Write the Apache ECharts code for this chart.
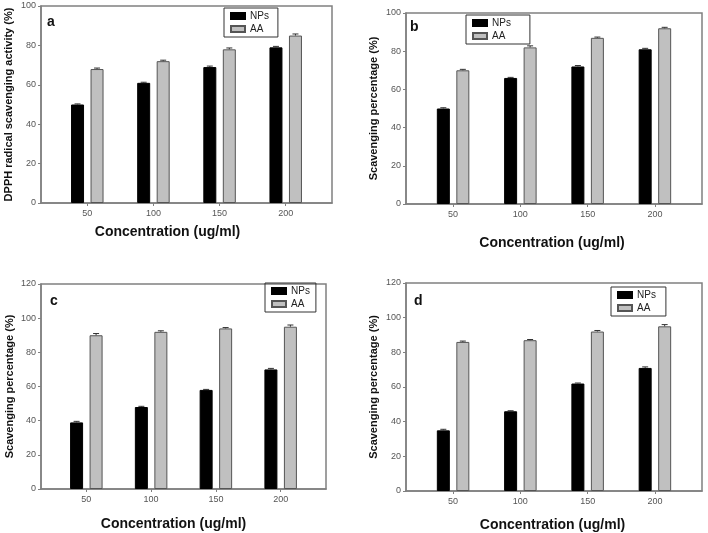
<!DOCTYPE html>
<html>
<head>
<meta charset="utf-8">
<script src="https://cdn.jsdelivr.net/npm/echarts@6/dist/echarts.min.js"></script>
<style>html,body{margin:0;padding:0;background:#fff}#c{width:708px;height:533px}</style>
</head>
<body>
<div id="c"></div>
<script>
// ---- data ----
const concentrations = [50, 100, 150, 200];
const panelLetters = ['a', 'b', 'c', 'd'];
const yTitles = ['DPPH radical scavenging activity (%)', 'Scavenging percentage (%)', 'Scavenging percentage (%)', 'Scavenging percentage (%)'];
const xTitle = 'Concentration (ug/ml)';
const yMax = [100, 100, 120, 120];
const npsA = [50, 61, 69, 79];
const aaA  = [68, 72, 78, 85];
const npsB = [50, 66, 72, 81];
const aaB  = [70, 82, 87, 92];
const npsC = [39, 48, 58, 70];
const aaC  = [90, 92, 94, 95];
const npsD = [35, 46, 62, 71];
const aaD  = [86, 87, 92, 95];
const npsErrA = [0.3, 0.3, 0.5, 0.5];
const aaErrA  = [0.5, 0.5, 0.7, 0.8];
const npsErrB = [0.4, 0.3, 0.5, 0.5];
const aaErrB  = [0.5, 0.8, 0.4, 0.5];
const npsErrC = [0.6, 0.4, 0.3, 0.6];
const aaErrC  = [1.0, 0.6, 0.5, 1.0];
const npsErrD = [0.6, 0.3, 0.3, 0.6];
const aaErrD  = [0.5, 0.4, 0.6, 1.0];

const npsAll = [npsA, npsB, npsC, npsD];
const aaAll = [aaA, aaB, aaC, aaD];
const npsErrAll = [npsErrA, npsErrB, npsErrC, npsErrD];
const aaErrAll = [aaErrA, aaErrB, aaErrC, aaErrD];

// ---- layout ----
const FONT = 'Liberation Sans, Arial, sans-serif';
const grids = [
  {left: 41, top: 6, width: 291, height: 197},
  {left: 406, top: 13, width: 296, height: 191},
  {left: 41, top: 284, width: 285, height: 205},
  {left: 406, top: 283, width: 296, height: 209}
];
const legendPos = [
  {left: 224, top: 8, padR: 9},
  {left: 466, top: 15, padR: 19},
  {left: 265, top: 283, padR: 6},
  {left: 611, top: 287, padR: 10}
];
const letterPos = [[47, 15], [410, 20], [50, 294], [414, 294]];
const yNameGap = [27, 27, 26, 27];
const xNameGap = [22, 32, 28, 27];
const xNamePad = [[0, 38, 0, 0], [0, 4, 0, 0], [0, 20, 0, 0], [0, 3, 0, 0]];

const AXIS_COLOR = '#808080';
const BAR_W = 13;
const OFF = (BAR_W + BAR_W * 0.5) / 2;

const option = {
  animation: false,
  backgroundColor: '#fff',
  textStyle: {fontFamily: FONT},
  grid: grids.map(g => Object.assign({show: true, borderColor: AXIS_COLOR, borderWidth: 1.5, backgroundColor: 'transparent'}, g)),
  title: panelLetters.map((t, i) => ({
    text: t, left: letterPos[i][0], top: letterPos[i][1], padding: 0,
    textStyle: {fontFamily: FONT, fontWeight: 'bold', fontSize: 14, color: '#111'}
  })),
  legend: legendPos.map(p => ({
    data: ['NPs', 'AA'], orient: 'vertical', left: p.left, top: p.top,
    icon: 'rect', itemWidth: 14, itemHeight: 6, itemGap: 3,
    selectedMode: false, borderColor: '#333', borderWidth: 1,
    padding: [3, p.padR, 3, 6],
    textStyle: {fontFamily: FONT, fontSize: 10, color: '#222'}
  })),
  xAxis: grids.map((g, i) => ({
    gridIndex: i, type: 'value', min: 15, max: 235,
    name: xTitle, nameLocation: 'middle', nameGap: xNameGap[i],
    nameTextStyle: {fontFamily: FONT, fontWeight: 'bold', fontSize: 14, color: '#111', padding: xNamePad[i]},
    splitLine: {show: false},
    axisLine: {show: true, onZero: false, lineStyle: {color: AXIS_COLOR, width: 1.5}},
    axisTick: {show: true, length: 3, customValues: concentrations, lineStyle: {color: AXIS_COLOR}},
    axisLabel: {customValues: concentrations, fontSize: 9, color: '#555', margin: 6, fontFamily: FONT}
  })),
  yAxis: grids.map((g, i) => ({
    gridIndex: i, type: 'value', min: 0, max: yMax[i], interval: 20,
    name: yTitles[i], nameLocation: 'middle', nameGap: yNameGap[i],
    nameTextStyle: {fontFamily: FONT, fontWeight: 'bold', fontSize: 11, color: '#111'},
    splitLine: {show: false},
    axisLine: {show: true, lineStyle: {color: AXIS_COLOR, width: 1.5}},
    axisTick: {show: true, length: 3, lineStyle: {color: AXIS_COLOR}},
    axisLabel: {fontSize: 9, color: '#555', margin: 5, fontFamily: FONT}
  })),
  series: []
};

function errSeries(i, vals, errs, off) {
  return {
    type: 'custom', xAxisIndex: i, yAxisIndex: i, silent: true, z: 5,
    data: concentrations.map((c, k) => [c, vals[k], errs[k]]),
    renderItem: function (params, api) {
      const top = api.coord([api.value(0), api.value(1) + api.value(2)]);
      const base = api.coord([api.value(0), api.value(1)]);
      const x = top[0] + off;
      const hw = 3;
      return {
        type: 'group',
        children: [
          {type: 'line', shape: {x1: x, y1: base[1], x2: x, y2: top[1]}, style: {stroke: '#333', lineWidth: 1}},
          {type: 'line', shape: {x1: x - hw, y1: top[1], x2: x + hw, y2: top[1]}, style: {stroke: '#333', lineWidth: 1}}
        ]
      };
    }
  };
}

for (let i = 0; i < 4; i++) {
  option.series.push({
    name: 'NPs', type: 'bar', xAxisIndex: i, yAxisIndex: i,
    barWidth: BAR_W, barGap: '50%',
    itemStyle: {color: '#000', borderColor: '#000', borderWidth: 1},
    data: concentrations.map((c, k) => [c, npsAll[i][k]])
  });
  option.series.push({
    name: 'AA', type: 'bar', xAxisIndex: i, yAxisIndex: i,
    barWidth: BAR_W, barGap: '50%',
    itemStyle: {color: '#c0c0c0', borderColor: '#555', borderWidth: 1},
    data: concentrations.map((c, k) => [c, aaAll[i][k]])
  });
  option.series.push(errSeries(i, npsAll[i], npsErrAll[i], -OFF));
  option.series.push(errSeries(i, aaAll[i], aaErrAll[i], OFF));
}

const chart = echarts.init(document.getElementById('c'), null, {renderer: 'canvas'});
chart.setOption(option);
</script>
</body>
</html>
